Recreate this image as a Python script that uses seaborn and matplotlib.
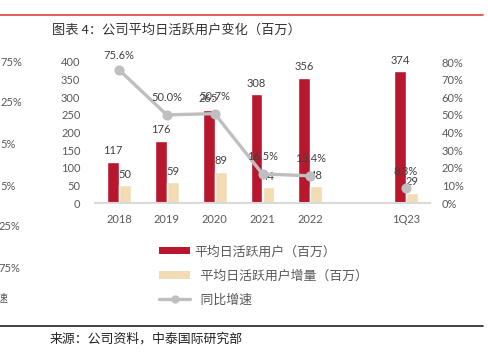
import numpy as np
import pandas as pd
import matplotlib
matplotlib.use("Agg")
import matplotlib.pyplot as plt
import seaborn as sns
from matplotlib.patches import Patch
from matplotlib.lines import Line2D
from matplotlib.ticker import FuncFormatter

# ---------------- data ----------------
categories = ["2018", "2019", "2020", "2021", "2022", "", "1Q23"]
dau = [117, 176, 265, 308, 356, None, 374]
dau_increase = [50, 59, 89, 44, 48, None, 29]
yoy = [75.6, 50.0, 50.7, 16.5, 15.4, None, 8.3]
yoy_segment = ["a", "a", "a", "a", "a", None, "b"]
left_ticks = [0, 50, 100, 150, 200, 250, 300, 350, 400]
right_ticks = [0, 10, 20, 30, 40, 50, 60, 70, 80]
series_names = ["平均日活跃用户（百万）", "平均日活跃用户增量（百万）", "同比增速"]
legend_labels = ["平均日活跃用户（百万）", "  平均日活跃用户增量（百万）", "  同比增速"]
title = "图表 4：公司平均日活跃用户变化（百万）"
source = "来源：公司资料，中泰国际研究部"
edge_texts = ["75%", "25%", "5%", "5%", "25%", "75%", "速"]

RED = "#B8172E"
BEIGE = "#F2DCB4"
GREY = "#BFBFBF"
TXT = "#595959"

sns.set_style("white")
plt.rcParams["font.family"] = ["Lato", "Noto Sans CJK SC", "DejaVu Sans"]

W, H = 489, 356
fig = plt.figure(figsize=(W / 100, H / 100), dpi=100)
ax = fig.add_axes([95 / W, 1 - 203 / H, 335 / W, 141 / H])

rows = []
for c, v1, v2 in zip(categories, dau, dau_increase):
    if v1 is not None:
        rows.append({"cat": c, "value": v1, "series": series_names[0]})
        rows.append({"cat": c, "value": v2, "series": series_names[1]})
bar_df = pd.DataFrame(rows)

sns.barplot(data=bar_df, x="cat", y="value", hue="series", order=categories,
            hue_order=series_names[:2], palette=[RED, BEIGE], width=0.5,
            saturation=1, legend=False, ax=ax, errorbar=None)
for cont in ax.containers:
    ax.bar_label(cont, padding=4, color="#404040", fontsize=8)

ax.set_ylim(0, 400)
ax.set_yticks(left_ticks)
ax.set_xlim(-0.5, 6.5)
ax.set_xlabel("")
ax.set_ylabel("")

ax2 = ax.twinx()
line_df = pd.DataFrame({"cat": categories, "yoy": yoy, "seg": yoy_segment}).dropna()
sns.pointplot(data=line_df, x="cat", y="yoy", hue="seg", order=categories,
              palette=[GREY, GREY], markers="o", markersize=5.5, linewidth=2.4,
              dodge=False, legend=False, ax=ax2, errorbar=None)
for i, (c, v) in enumerate(zip(categories, yoy)):
    if v is not None:
        off = 10.5 if i == 0 else 12.5
        ax2.annotate(f"{v:.1f}%", (i, v), xytext=(0, off), textcoords="offset points",
                     ha="center", va="center", color="#404040", fontsize=8)
ax2.set_ylim(0, 80)
ax2.set_yticks(right_ticks)
ax2.yaxis.set_major_formatter(FuncFormatter(lambda v, p: f"{v:.0f}%"))
ax2.set_xlim(-0.5, 6.5)
ax2.set_xlabel("")
ax2.set_ylabel("")

for a in (ax, ax2):
    for s in a.spines.values():
        s.set_visible(False)
    a.grid(False)
ax.spines["bottom"].set_visible(True)
ax.spines["bottom"].set_color("#D9D9D9")
ax.spines["bottom"].set_linewidth(1.5)

ax.tick_params(axis="y", length=0, pad=10.5, labelcolor=TXT, labelsize=8)
ax.tick_params(axis="x", length=0, pad=8, labelcolor=TXT, labelsize=8)
ax2.tick_params(axis="y", length=0, pad=8.5, labelcolor=TXT, labelsize=8)

handles = [Patch(facecolor=RED, edgecolor="none"),
           Patch(facecolor=BEIGE, edgecolor="none"),
           Line2D([0], [0], color=GREY, lw=2.4, marker="o", markersize=5)]
fig.legend(handles, legend_labels, loc="upper left",
           bbox_to_anchor=(159 / W, 1 - 245 / H), frameon=False, fontsize=9.3,
           labelcolor=TXT, handlelength=2.4, handleheight=0.5, handletextpad=0.3,
           labelspacing=0.9, borderpad=0, borderaxespad=0)

fig.text(52 / W, 1 - 30 / H, title, ha="left", va="center", fontsize=9.5,
         color="#333333", family=["Noto Sans CJK SC", "DejaVu Sans"])
fig.text(50 / W, 1 - 339 / H, source, ha="left", va="center", fontsize=9.3,
         color="#222222", family=["Noto Sans CJK SC", "DejaVu Sans"])

edge_pos = [(22, 62), (22, 103), (16, 145), (16, 186), (20, 227), (20, 268), (8, 298)]
for t, (x, y) in zip(edge_texts, edge_pos):
    fig.text(x / W, 1 - y / H, t, ha="right", va="center", fontsize=8, color=TXT)

fig.add_artist(Line2D([0, 483 / W], [1 - 15 / H] * 2, color="#E0524F", lw=1.3))
fig.add_artist(Line2D([0, 483 / W], [1 - 325.5 / H] * 2, color="#222222", lw=1.2))

fig.savefig("out.png", dpi=100)
